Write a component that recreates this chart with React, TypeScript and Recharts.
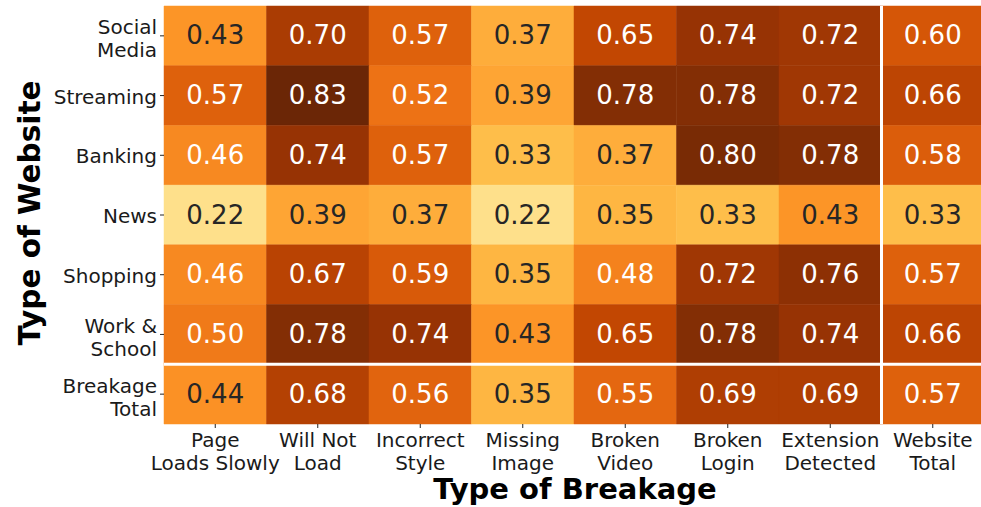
import React from 'react';
import { ScatterChart, Scatter, XAxis, YAxis, ReferenceArea, ReferenceLine, Label } from 'recharts';

// Column (x) categories
const breakageTypes = [
  'Page\nLoads Slowly',
  'Will Not\nLoad',
  'Incorrect\nStyle',
  'Missing\nImage',
  'Broken\nVideo',
  'Broken\nLogin',
  'Extension\nDetected',
  'Website\nTotal',
];

// Row (y) categories, top to bottom
const websiteTypes = ['Social\nMedia', 'Streaming', 'Banking', 'News', 'Shopping', 'Work &\nSchool', 'Breakage\nTotal'];

// Row values (one per breakage type)
const socialMedia = [0.43, 0.7, 0.57, 0.37, 0.65, 0.74, 0.72, 0.6];
const streaming = [0.57, 0.83, 0.52, 0.39, 0.78, 0.78, 0.72, 0.66];
const banking = [0.46, 0.74, 0.57, 0.33, 0.37, 0.8, 0.78, 0.58];
const news = [0.22, 0.39, 0.37, 0.22, 0.35, 0.33, 0.43, 0.33];
const shopping = [0.46, 0.67, 0.59, 0.35, 0.48, 0.72, 0.76, 0.57];
const workSchool = [0.5, 0.78, 0.74, 0.43, 0.65, 0.78, 0.74, 0.66];
const breakageTotal = [0.44, 0.68, 0.56, 0.35, 0.55, 0.69, 0.69, 0.57];

const rows = [socialMedia, streaming, banking, news, shopping, workSchool, breakageTotal];

const xTicks = breakageTypes.map((_, i) => i + 0.5);
const yTicks = websiteTypes.map((_, i) => i + 0.5);

// YlOrBr colormap
const YLORBR = [
  [255, 255, 229],
  [255, 247, 188],
  [254, 227, 145],
  [254, 196, 79],
  [254, 153, 41],
  [236, 112, 20],
  [204, 76, 2],
  [153, 52, 4],
  [102, 37, 6],
];
const VMIN = 0;
const VMAX = 0.84;

function cmapRGB(v: number): number[] {
  let t = (v - VMIN) / (VMAX - VMIN);
  t = Math.max(0, Math.min(1, t));
  const p = t * (YLORBR.length - 1);
  const i = Math.min(YLORBR.length - 2, Math.floor(p));
  const f = p - i;
  const a = YLORBR[i];
  const b = YLORBR[i + 1];
  return [0, 1, 2].map((k) => Math.round(a[k] + (b[k] - a[k]) * f));
}
function rgbStr(c: number[]) {
  return `rgb(${c[0]},${c[1]},${c[2]})`;
}
function textColor(c: number[]) {
  const lin = c.map((x) => {
    const s = x / 255;
    return s <= 0.03928 ? s / 12.92 : Math.pow((s + 0.055) / 1.055, 2.4);
  });
  const L = 0.2126 * lin[0] + 0.7152 * lin[1] + 0.0722 * lin[2];
  return L > 0.408 ? '#262626' : '#ffffff';
}

const cells = rows.flatMap((vals, r) =>
  vals.map((v, c) => ({ x: c + 0.5, y: r + 0.5, col: c, row: r, v }))
);

const FONT = 'DejaVu Sans';

const XTick = (props: any) => {
  const { x, y, payload } = props;
  const idx = Math.round(payload.value - 0.5);
  const lines = (breakageTypes[idx] || '').split('\n');
  return (
    <g>
      {lines.map((l, k) => (
        <text key={k} x={x} y={y + 17 + k * 23} textAnchor="middle" fontSize={20} fill="#1a1a1a" fontFamily={FONT}>
          {l}
        </text>
      ))}
    </g>
  );
};

const YTick = (props: any) => {
  const { x, y, payload } = props;
  const idx = Math.round(payload.value - 0.5);
  const lines = (websiteTypes[idx] || '').split('\n');
  if (lines.length === 1) {
    return (
      <text x={x} y={y + 8} textAnchor="end" fontSize={20} fill="#1a1a1a" fontFamily={FONT}>
        {lines[0]}
      </text>
    );
  }
  return (
    <g>
      {lines.map((l, k) => (
        <text key={k} x={x} y={y - 1.5 + k * 23} textAnchor="end" fontSize={20} fill="#1a1a1a" fontFamily={FONT}>
          {l}
        </text>
      ))}
    </g>
  );
};

const CellText = (p: any) => {
  const { cx, cy, payload } = p;
  if (cx == null || cy == null) return null;
  const c = cmapRGB(payload.v);
  return (
    <text x={cx} y={cy} dy="0.33em" textAnchor="middle" fontSize={26} fill={textColor(c)} fontFamily={FONT}>
      {payload.v.toFixed(2)}
    </text>
  );
};

export default function App() {
  return (
    <div style={{ position: 'absolute', left: 0, top: 0, width: 981, height: 507, overflow: 'hidden', background: '#fff' }}>
      <ScatterChart width={990} height={507} margin={{ top: 6, right: 6, bottom: 0, left: 0 }}>
        <XAxis
          type="number"
          dataKey="x"
          domain={[0, 8]}
          ticks={xTicks}
          interval={0}
          height={83}
          axisLine={false}
          tickSize={4}
          tickMargin={2}
          tickLine={{ stroke: '#222', strokeWidth: 1 }}
          tick={<XTick />}
          allowDataOverflow
        >
          <Label
            content={(lp: any) => {
              const vb = lp.viewBox || {};
              return (
                <text x={vb.x + vb.width / 2 + 1} y={499} textAnchor="middle" fontSize={29} fontWeight="bold" fill="#000" fontFamily={FONT}>
                  Type of Breakage
                </text>
              );
            }}
          />
        </XAxis>
        <YAxis
          type="number"
          dataKey="y"
          domain={[0, 7]}
          reversed
          ticks={yTicks}
          interval={0}
          width={164}
          axisLine={false}
          tickSize={4}
          tickMargin={3}
          tickLine={{ stroke: '#222', strokeWidth: 1 }}
          tick={<YTick />}
          allowDataOverflow
        >
          <Label
            content={(lp: any) => {
              const vb = lp.viewBox || {};
              const cy = vb.y + vb.height / 2 - 2;
              return (
                <text
                  x={40}
                  y={cy}
                  transform={`rotate(-90 40 ${cy})`}
                  textAnchor="middle"
                  fontSize={29.5}
                  fontWeight="bold"
                  fill="#000"
                  fontFamily={FONT}
                >
                  Type of Website
                </text>
              );
            }}
          />
        </YAxis>
        {cells.map((d) => (
          <ReferenceArea
            key={`a-${d.row}-${d.col}`}
            x1={d.col}
            x2={d.col + 1}
            y1={d.row}
            y2={d.row + 1}
            fill={rgbStr(cmapRGB(d.v))}
            fillOpacity={1}
            stroke={rgbStr(cmapRGB(d.v))}
            strokeWidth={0.5}
            ifOverflow="visible"
          />
        ))}
        <ReferenceLine x={7} stroke="#ffffff" strokeWidth={3} ifOverflow="visible" />
        <ReferenceLine y={6} stroke="#ffffff" strokeWidth={3} ifOverflow="visible" />
        <Scatter data={cells} isAnimationActive={false} shape={<CellText />} />
      </ScatterChart>
    </div>
  );
}
